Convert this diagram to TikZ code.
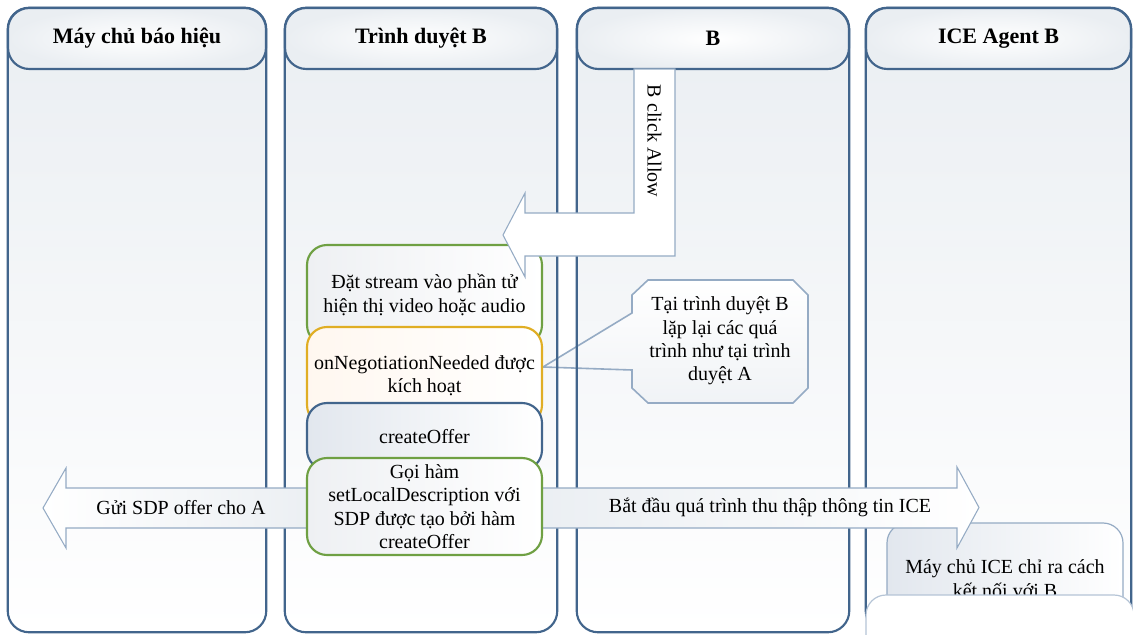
\documentclass[tikz,border=0pt]{standalone}
\usepackage{fontspec}
\setmainfont{Liberation Serif}
\definecolor{lanec}{HTML}{42658C}
\definecolor{greenc}{HTML}{6FA043}
\definecolor{goldc}{HTML}{E0AE24}
\definecolor{thinc}{HTML}{95ABC4}
\definecolor{lanetop}{HTML}{EAEEF2}
\definecolor{boxgray}{HTML}{EEF0F3}
\definecolor{bluegray}{HTML}{E2E7EE}
\begin{document}
\begin{tikzpicture}[x=0.75pt,y=-0.75pt,
  txt/.style={font=\fontsize{15pt}{17.5pt}\selectfont, align=center, inner sep=0pt},
  lanefill/.style={rounded corners=16pt, top color=lanetop, bottom color=white,
    minimum height=468pt, inner sep=0pt},
  laneline/.style={draw=lanec, line width=1.6pt, rounded corners=16pt},
  header/.style={draw=lanec, line width=1.6pt, rounded corners=16pt,
    inner color=white, outer color=lanetop, minimum height=45.75pt, inner sep=0pt,
    font=\fontsize{16.5pt}{19pt}\selectfont\bfseries},
  stepbox/.style={txt, rounded corners=15pt, line width=1.6pt,
    minimum width=176.25pt},
  blockarrow/.style={draw=thinc, line width=0.8pt},
]
\useasboundingbox (0,0) rectangle (1133,635);
\clip (0,0) rectangle (1133,635);
\fill[white] (0,0) rectangle (1133,635);

% swimlane bodies (fill only, outlines come later)
\node[lanefill, minimum width=193.5pt] (L1) at (137,320) {};
\node[lanefill, minimum width=204pt]   (L2) at (421,320) {};
\node[lanefill, minimum width=204pt]   (L3) at (713,320) {};
\node[lanefill, minimum width=198.75pt] (L4) at (998.5,320) {};

% callout pointing at the negotiation step
\path[draw=thinc, line width=1.2pt, top color=white, bottom color=lanetop!70]
  (648,280) -- (793,280) -- (808,295) -- (808,388) -- (793,403) -- (648,403)
  -- (632,388) -- (632,370) -- (543,367) -- (632,313) -- (632,295) -- cycle;
\node[txt] (note) at (720,341)
  {Tại trình duyệt B\\lặp lại các quá\\trình như tại trình\\duyệt A};

% swimlane outlines
\foreach \l in {L1,L2,L3,L4}
  \draw[laneline] (\l.north west) rectangle (\l.south east);

% lane headers
\node[header, minimum width=193.5pt]  (H1) at (137,38.5)   {Máy chủ báo hiệu};
\node[header, minimum width=204pt]    (H2) at (421,38.5)   {Trình duyệt B};
\node[header, minimum width=204pt]    (H3) at (713,38.5)   {B};
\node[header, minimum width=198.75pt] (H4) at (998.5,38.5) {ICE Agent B};

% steps in the browser lane
\node[stepbox, draw=greenc, left color=boxgray, right color=white,
  minimum height=75pt] (s1) at (424.5,295)
  {Đặt stream vào phần tử\\hiện thị video hoặc audio};
\node[stepbox, draw=goldc, left color=orange!6, right color=white,
  minimum height=73.5pt] (s2) at (424.5,376)
  {onNegotiationNeeded được\\kích hoạt};
\node[stepbox, draw=lanec, left color=bluegray, right color=white,
  minimum height=50.25pt] (s3) at (424.5,436.5) {createOffer};

% bent arrow from B into the browser lane
\path[blockarrow, fill=white]
  (634,69) -- (634,213) -- (525,213) -- (525,193) -- (503,235) -- (525,277)
  -- (525,256) -- (675,256) -- (675,69) -- cycle;
\node[txt, rotate=-90] (allow) at (654.5,141) {B click Allow};

% ICE server box, partly hidden by the box below it
\path[draw=thinc, line width=0.9pt, rounded corners=15pt,
  left color=bluegray, right color=white]
  (887,523) rectangle (1123,640);
\node[txt] (ice) at (1005,578.5) {Máy chủ ICE chỉ ra cách\\kết nối với B};
\path[draw=thinc!70, line width=0.9pt, rounded corners=15pt, fill=white]
  (866,595) rectangle (1134,655);

% outgoing block arrows
\path[blockarrow, left color=white, right color=lanetop]
  (330,488) -- (66,488) -- (66,468) -- (43,508) -- (66,548) -- (66,528)
  -- (330,528) -- cycle;
\node[txt] (sdp) at (181,508) {Gửi SDP offer cho A};
\path[blockarrow, left color=lanetop, right color=white]
  (520,488) -- (957,488) -- (957,467) -- (979,507.5) -- (957,548) -- (957,528)
  -- (520,528) -- cycle;
\node[txt] (gather) at (770,507) {Bắt đầu quá trình thu thập thông tin ICE};

\node[stepbox, draw=greenc, left color=boxgray, right color=white,
  minimum height=72.75pt] (s4) at (424.5,506.5)
  {Gọi hàm\\setLocalDescription với\\SDP được tạo bởi hàm\\createOffer};
\end{tikzpicture}
\end{document}
